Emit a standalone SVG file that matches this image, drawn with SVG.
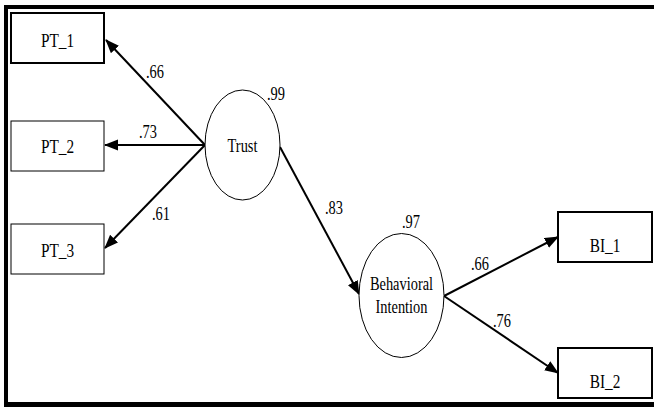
<svg xmlns="http://www.w3.org/2000/svg" width="654" height="407" viewBox="0 0 654 407">
<style>
  .box { fill: #fff; stroke: #000; }
  .ell { fill: #fff; stroke: #000; stroke-width: 1; }
  .t { font-family: "Liberation Serif", "Times New Roman", serif; font-size: 18px; fill: #000; text-anchor: middle; }
  .edge { stroke: #000; stroke-width: 2; fill: none; marker-end: url(#ah); }
</style>
<defs>
  <marker id="ah" markerUnits="userSpaceOnUse" markerWidth="14" markerHeight="12" refX="13" refY="5.5" orient="auto">
    <path d="M0,0 L14,5.5 L0,11 Z" fill="#000"/>
  </marker>
</defs>
<rect x="0" y="0" width="654" height="407" fill="#fff"/>
<g id="frame">
  <path d="M6,407 V7 H654" stroke="#000" stroke-width="4" fill="none"/>
  <line x1="4" y1="404.5" x2="654" y2="404.5" stroke="#000" stroke-width="5"/>
</g>
<g id="connectors">
  <line class="edge" x1="205" y1="145" x2="106" y2="40"/>
  <line class="edge" x1="205" y1="145" x2="105" y2="145"/>
  <line class="edge" x1="205" y1="145" x2="105" y2="248"/>
  <line class="edge" x1="280" y1="147" x2="359" y2="294"/>
  <line class="edge" x1="444" y1="296" x2="558" y2="237"/>
  <line class="edge" x1="444" y1="296" x2="558" y2="373"/>
</g>
<g id="PT_1">
  <rect class="box" x="11" y="13" width="93" height="50" stroke-width="2"/>
  <text class="t" transform="translate(57.5,47) scale(0.85,1)">PT_1</text>
</g>
<g id="PT_2">
  <rect class="box" x="11" y="121" width="93" height="50" stroke-width="1"/>
  <text class="t" transform="translate(57.5,153) scale(0.85,1)">PT_2</text>
</g>
<g id="PT_3">
  <rect class="box" x="11" y="224" width="93" height="50" stroke-width="1"/>
  <text class="t" transform="translate(57.5,257) scale(0.85,1)">PT_3</text>
</g>
<g id="Trust">
  <ellipse class="ell" cx="242.5" cy="145" rx="37.5" ry="55"/>
  <text class="t" transform="translate(242.5,152) scale(0.8,1)">Trust</text>
</g>
<g id="BehavioralIntention">
  <ellipse class="ell" cx="401.5" cy="295.5" rx="42.5" ry="62"/>
  <text class="t" transform="translate(401.5,290) scale(0.8,1)">Behavioral</text>
  <text class="t" transform="translate(401.5,313) scale(0.8,1)">Intention</text>
</g>
<g id="BI_1">
  <rect class="box" x="558" y="212" width="94" height="50" stroke-width="2"/>
  <text class="t" transform="translate(605,252) scale(0.85,1)">BI_1</text>
</g>
<g id="BI_2">
  <rect class="box" x="558" y="348" width="94" height="50" stroke-width="2"/>
  <text class="t" transform="translate(605,388) scale(0.85,1)">BI_2</text>
</g>
<g id="labels">
  <text class="t" transform="translate(155,78) scale(0.8,1)">.66</text>
  <text class="t" transform="translate(148,138) scale(0.8,1)">.73</text>
  <text class="t" transform="translate(161,220) scale(0.8,1)">.61</text>
  <text class="t" transform="translate(276,100) scale(0.8,1)">.99</text>
  <text class="t" transform="translate(334,214) scale(0.8,1)">.83</text>
  <text class="t" transform="translate(411,228) scale(0.8,1)">.97</text>
  <text class="t" transform="translate(480,270) scale(0.8,1)">.66</text>
  <text class="t" transform="translate(502,327) scale(0.8,1)">.76</text>
</g>
</svg>
